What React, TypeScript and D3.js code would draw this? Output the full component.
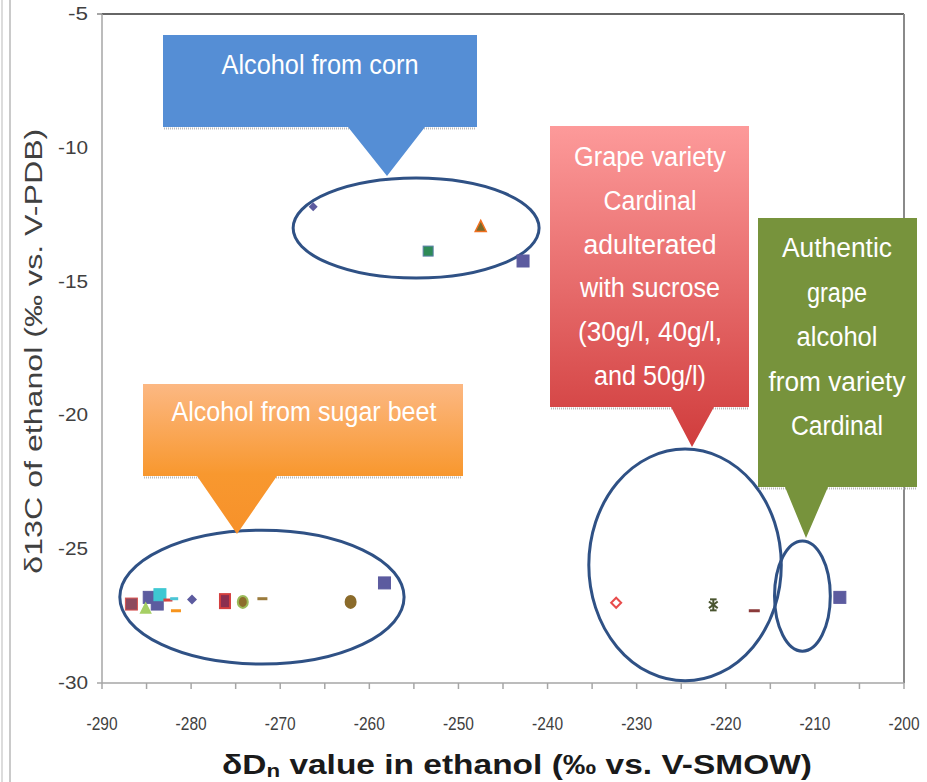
import React from "react";
import * as d3 from "d3";

const W = 927;
const H = 782;

// ---- data ----
const xTicks = [-290, -280, -270, -260, -250, -240, -230, -220, -210, -200];
const xMinorTicks = d3.range(-290, -199, 5);
const yTicks = [-5, -10, -15, -20, -25, -30];

const cornD = [-266.3, -253.4, -247.5, -242.75];
const cornC = [-12.2, -13.86, -12.92, -14.23];

const beetD = [-286.7, -284.7, -285.1, -283.8, -283.5, -282.6, -281.9, -281.7, -279.9, -276.2, -274.2, -272.0, -262.1, -258.3];
const beetC = [-27.05, -26.8, -27.2, -27.05, -26.7, -26.9, -26.85, -27.3, -26.88, -26.94, -26.97, -26.85, -26.97, -26.26];

const adultD = [-232.3, -221.4, -216.8];
const adultC = [-27.0, -27.08, -27.3];

const authD = [-207.2];
const authC = [-26.8];

// group ellipses (data units): cx, cy, rx, ry
const ellipses = [
  { cx: -254.75, cy: -13.0, rx: 13.8, ry: 1.87 },
  { cx: -272.05, cy: -26.79, rx: 15.95, ry: 2.5 },
  { cx: -224.57, cy: -25.59, rx: 10.8, ry: 4.33 },
  { cx: -211.4, cy: -26.75, rx: 3.13, ry: 2.06 },
];

// ---- marker styles ----
type M = { shape: string; fill: string; stroke?: string; s: number };
const PURPLE = "#5c5b9f";
const cornM: M[] = [
  { shape: "diamond", fill: PURPLE, s: 9 },
  { shape: "square", fill: "#2e8b57", stroke: "#5a7fa8", s: 10 },
  { shape: "triangle", fill: "#7a6a2a", stroke: "#f07020", s: 11 },
  { shape: "square", fill: PURPLE, s: 12 },
];
const beetM: M[] = [
  { shape: "square", fill: "#8e4a5e", stroke: "#d9534f", s: 12 },
  { shape: "square", fill: PURPLE, s: 12 },
  { shape: "triangle", fill: "#a6cf64", s: 10 },
  { shape: "square", fill: PURPLE, s: 12 },
  { shape: "square", fill: "#3ec8d2", s: 12 },
  { shape: "dash", fill: "#d9423f", s: 9 },
  { shape: "dash", fill: "#4bc6d6", s: 8 },
  { shape: "dash", fill: "#f7941d", s: 10 },
  { shape: "diamond", fill: PURPLE, s: 10 },
  { shape: "tall", fill: "#8b2f4f", stroke: "#d43f3f", s: 10 },
  { shape: "circle", fill: "#8c6d2c", stroke: "#9bbb59", s: 10 },
  { shape: "dash", fill: "#9b7b3c", s: 10 },
  { shape: "circle", fill: "#8b6b2b", s: 10 },
  { shape: "square", fill: PURPLE, s: 12 },
];
const adultM: M[] = [
  { shape: "hdiamond", fill: "#ffffff", stroke: "#e84c4c", s: 10 },
  { shape: "star", fill: "#4a5530", s: 11 },
  { shape: "dash", fill: "#8b3a3a", s: 11 },
];
const authM: M[] = [{ shape: "square", fill: PURPLE, s: 12 }];

// ---- scales ----
const x = d3.scaleLinear().domain([-290, -200]).range([102, 904]);
const y = d3.scaleLinear().domain([-30, -5]).range([683, 14]);

function Marker({ cx, cy, m }: { cx: number; cy: number; m: M }) {
  const s = m.s;
  const h = s / 2;
  switch (m.shape) {
    case "square":
      return <rect x={cx - h} y={cy - h} width={s} height={s} fill={m.fill} stroke={m.stroke ?? m.fill} strokeWidth={1} />;
    case "tall":
      return <rect x={cx - h} y={cy - s * 0.7} width={s} height={s * 1.4} fill={m.fill} stroke={m.stroke} strokeWidth={2} />;
    case "diamond":
      return <path d={`M${cx},${cy - h}L${cx + h},${cy}L${cx},${cy + h}L${cx - h},${cy}Z`} fill={m.fill} />;
    case "hdiamond":
      return <path d={`M${cx},${cy - h}L${cx + h},${cy}L${cx},${cy + h}L${cx - h},${cy}Z`} fill={m.fill} stroke={m.stroke} strokeWidth={2} />;
    case "triangle":
      return <path d={`M${cx},${cy - h}L${cx + h},${cy + h}L${cx - h},${cy + h}Z`} fill={m.fill} stroke={m.stroke ?? m.fill} strokeWidth={1.5} />;
    case "circle":
      return <ellipse cx={cx} cy={cy} rx={h} ry={h * 1.2} fill={m.fill} stroke={m.stroke ?? m.fill} strokeWidth={2} />;
    case "dash":
      return <rect x={cx - h} y={cy - 1.5} width={s} height={3} fill={m.fill} />;
    case "star":
      return (
        <g stroke={m.fill} strokeWidth={2}>
          <line x1={cx - h * 0.6} y1={cy - h} x2={cx + h * 0.6} y2={cy - h} />
          <line x1={cx - h * 0.6} y1={cy + h} x2={cx + h * 0.6} y2={cy + h} />
          <line x1={cx - h * 0.8} y1={cy - h * 0.6} x2={cx + h * 0.8} y2={cy + h * 0.6} />
          <line x1={cx + h * 0.8} y1={cy - h * 0.6} x2={cx - h * 0.8} y2={cy + h * 0.6} />
          <line x1={cx} y1={cy - h} x2={cx} y2={cy + h} />
        </g>
      );
    default:
      return null;
  }
}

function Series({ xs, ys, ms }: { xs: number[]; ys: number[]; ms: M[] }) {
  return (
    <g>
      {xs.map((d, i) => (
        <Marker key={i} cx={x(d)} cy={y(ys[i])} m={ms[i]} />
      ))}
    </g>
  );
}

const FONT = "Liberation Sans, Arial, sans-serif";

type Callout = {
  x0: number; y0: number; x1: number; y1: number;
  px0: number; px1: number; tipX: number; tipY: number;
  fill: string;
  lines: { t: string; w: number }[];
  tx: number; ty: number; lh: number;
};

const callouts: Callout[] = [
  {
    x0: 163, y0: 35, x1: 477, y1: 127, px0: 348, px1: 425, tipX: 387, tipY: 176,
    fill: "#558ed5", lines: [{ t: "Alcohol from corn", w: 197 }], tx: 320, ty: 74, lh: 44,
  },
  {
    x0: 143, y0: 384, x1: 463, y1: 476, px0: 197, px1: 277, tipX: 237, tipY: 534,
    fill: "url(#gOrange)", lines: [{ t: "Alcohol from sugar beet", w: 265 }], tx: 304, ty: 421, lh: 44,
  },
  {
    x0: 550, y0: 126, x1: 749, y1: 407, px0: 671, px1: 714, tipX: 692, tipY: 447,
    fill: "url(#gRed)",
    lines: [
      { t: "Grape variety", w: 152 },
      { t: "Cardinal", w: 93 },
      { t: "adulterated", w: 133 },
      { t: "with sucrose", w: 140 },
      { t: "(30g/l, 40g/l,", w: 144 },
      { t: "and 50g/l)", w: 112 },
    ],
    tx: 650, ty: 166, lh: 43.8,
  },
  {
    x0: 758, y0: 218, x1: 917, y1: 487, px0: 785, px1: 828, tipX: 806, tipY: 538,
    fill: "#77933c",
    lines: [
      { t: "Authentic", w: 110 },
      { t: "grape", w: 60 },
      { t: "alcohol", w: 81 },
      { t: "from variety", w: 137 },
      { t: "Cardinal", w: 92 },
    ],
    tx: 837, ty: 257, lh: 44.5,
  },
];

function CalloutBox({ c }: { c: Callout }) {
  const path = `M${c.x0},${c.y0}H${c.x1}V${c.y1}H${c.px1}L${c.tipX},${c.tipY}L${c.px0},${c.y1}H${c.x0}Z`;
  return (
    <g>
      <line x1={c.x0 + 1} x2={c.x1 - 1} y1={c.y1 + 1.5} y2={c.y1 + 1.5} stroke="#bbb" strokeWidth={2} strokeDasharray="1 1" />
      <path d={path} fill={c.fill} />
      {c.lines.map((l, i) => (
        <text
          key={i}
          x={c.tx}
          y={c.ty + i * c.lh}
          textAnchor="middle"
          fontFamily={FONT}
          fontSize={27}
          fill="#ffffff"
          textLength={l.w}
          lengthAdjust="spacingAndGlyphs"
        >
          {l.t}
        </text>
      ))}
    </g>
  );
}

export default function App() {
  return (
    <svg width={W} height={H} style={{ position: "absolute", left: 0, top: 0, background: "#fff" }}>
      <defs>
        <linearGradient id="gOrange" x1="0" y1="0" x2="0" y2="1">
          <stop offset="0" stopColor="#fcb883" />
          <stop offset="0.6" stopColor="#f8982f" />
          <stop offset="1" stopColor="#f7912a" />
        </linearGradient>
        <linearGradient id="gRed" x1="0" y1="0" x2="0" y2="1">
          <stop offset="0" stopColor="#fd9a9a" />
          <stop offset="1" stopColor="#d03c3c" />
        </linearGradient>
      </defs>
      <rect width={W} height={H} fill="#fff" />
      {/* outer border lines */}
      <line x1={2} x2={2} y1={0} y2={H} stroke="#d0d0d0" strokeWidth={1.5} />
      <line x1={10} x2={10} y1={0} y2={H} stroke="#b8b8b8" strokeWidth={1.5} />

      {/* plot frame */}
      <line x1={x(-290)} x2={x(-200)} y1={y(-5)} y2={y(-5)} stroke="#666" strokeWidth={2} />
      <line x1={x(-200)} x2={x(-200)} y1={y(-5)} y2={y(-30)} stroke="#8a8a8a" strokeWidth={2} />
      <line x1={x(-290)} x2={x(-290)} y1={y(-5)} y2={y(-30)} stroke="#a6a6a6" strokeWidth={1.5} />
      <line x1={x(-290)} x2={x(-200)} y1={y(-30)} y2={y(-30)} stroke="#a6a6a6" strokeWidth={1.5} />
      <line x1={x(-290) - 5} x2={x(-290)} y1={y(-5)} y2={y(-5)} stroke="#888" strokeWidth={1.5} />
      <line x1={x(-290) - 5} x2={x(-290)} y1={y(-30)} y2={y(-30)} stroke="#a6a6a6" strokeWidth={1.5} />
      {xMinorTicks.map((t) => (
        <line key={t} x1={x(t)} x2={x(t)} y1={y(-30)} y2={y(-30) + 6} stroke="#a6a6a6" strokeWidth={1.5} />
      ))}

      {/* tick labels */}
      {xTicks.map((t) => (
        <text key={t} x={x(t)} y={730} textAnchor="middle" fontFamily={FONT} fontSize={19} fill="#404040" textLength={31} lengthAdjust="spacingAndGlyphs">
          {t}
        </text>
      ))}
      {yTicks.map((t) => (
        <text key={t} x={88} y={y(t) + 6} textAnchor="end" fontFamily={FONT} fontSize={18} fill="#404040" textLength={t === -5 ? 20 : 30} lengthAdjust="spacingAndGlyphs">
          {t}
        </text>
      ))}

      {/* axis titles */}
      <text
        transform={`translate(42,${y(-17.6)}) rotate(-90)`}
        textAnchor="middle"
        fontFamily={FONT}
        fontSize={23}
        fill="#404040"
        textLength={445}
        lengthAdjust="spacingAndGlyphs"
      >
        δ13C  of ethanol (‰ vs. V-PDB)
      </text>
      <text
        x={517}
        y={774}
        textAnchor="middle"
        fontFamily={FONT}
        fontSize={27}
        fontWeight="bold"
        fill="#1a1a1a"
        textLength={590}
        lengthAdjust="spacingAndGlyphs"
      >
        δD<tspan fontSize={18} dy={3}>n</tspan>
        <tspan dy={-3}> value in ethanol (‰ vs. V-SMOW)</tspan>
      </text>

      {/* group ellipses */}
      {ellipses.map((e, i) => (
        <ellipse
          key={i}
          cx={x(e.cx)}
          cy={y(e.cy)}
          rx={x(e.cx + e.rx) - x(e.cx)}
          ry={y(e.cy - e.ry) - y(e.cy)}
          fill="none"
          stroke="#2f5185"
          strokeWidth={3}
        />
      ))}

      {/* data */}
      <Series xs={cornD} ys={cornC} ms={cornM} />
      <Series xs={beetD} ys={beetC} ms={beetM} />
      <Series xs={adultD} ys={adultC} ms={adultM} />
      <Series xs={authD} ys={authC} ms={authM} />

      {/* callouts */}
      {callouts.map((c, i) => (
        <CalloutBox key={i} c={c} />
      ))}
    </svg>
  );
}
